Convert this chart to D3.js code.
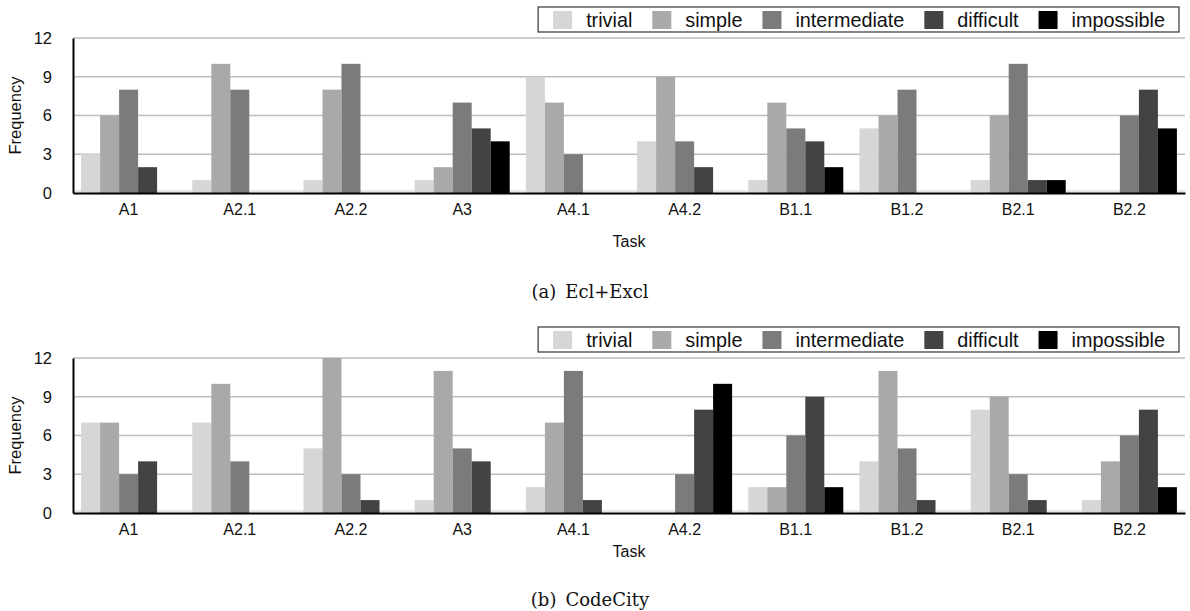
<!DOCTYPE html>
<html>
<head>
<meta charset="utf-8">
<script src="https://cdn.jsdelivr.net/npm/d3@7/dist/d3.min.js"></script>
<style>
  html, body { margin: 0; padding: 0; background: #fff; }
  svg { display: block; }
  text { font-family: "Liberation Sans", Arial, Helvetica, sans-serif; fill: #111; }
  .caption { font-family: "DejaVu Serif", "Liberation Serif", serif; }
</style>
</head>
<body>
<svg id="chart" width="1190" height="611"></svg>
<script>
// Tasks on the x axis
const tasks = ["A1", "A2.1", "A2.2", "A3", "A4.1", "A4.2", "B1.1", "B1.2", "B2.1", "B2.2"];
// Perceived difficulty levels (legend order)
const levels = ["trivial", "simple", "intermediate", "difficult", "impossible"];
const levelColors = ["#d6d6d6", "#a9a9a9", "#7b7b7b", "#434343", "#000000"];
const yTicks = [0, 3, 6, 9, 12];

// Ecl+Excl: frequency per task, one array per difficulty level
const eclTrivial      = [3, 1, 1, 1, 9, 4, 1, 5, 1, 0];
const eclSimple       = [6, 10, 8, 2, 7, 9, 7, 6, 6, 0];
const eclIntermediate = [8, 8, 10, 7, 3, 4, 5, 8, 10, 6];
const eclDifficult    = [2, 0, 0, 5, 0, 2, 4, 0, 1, 8];
const eclImpossible   = [0, 0, 0, 4, 0, 0, 2, 0, 1, 5];

// CodeCity: frequency per task, one array per difficulty level
const ccTrivial      = [7, 7, 5, 1, 2, 0, 2, 4, 8, 1];
const ccSimple       = [7, 10, 12, 11, 7, 0, 2, 11, 9, 4];
const ccIntermediate = [3, 4, 3, 5, 11, 3, 6, 5, 3, 6];
const ccDifficult    = [4, 0, 1, 4, 1, 8, 9, 1, 1, 8];
const ccImpossible   = [0, 0, 0, 0, 0, 10, 2, 0, 0, 2];

const panels = [
  { caption: "(a)\u2002Ecl+Excl", series: [eclTrivial, eclSimple, eclIntermediate, eclDifficult, eclImpossible],
    top: 38, legendTop: 7, taskY: 247, captionY: 298 },
  { caption: "(b)\u2002CodeCity", series: [ccTrivial, ccSimple, ccIntermediate, ccDifficult, ccImpossible],
    top: 358, legendTop: 327, taskY: 557, captionY: 606 }
];

const svg = d3.select("#chart");
const plotLeft = 73, plotRight = 1185, plotHeight = 155;

const x0 = d3.scaleBand().domain(tasks).range([plotLeft, plotRight]);
const x1 = d3.scaleBand().domain(levels).range([0, x0.bandwidth()]).paddingOuter(0.426);
const color = d3.scaleOrdinal().domain(levels).range(levelColors);

panels.forEach(p => {
  const g = svg.append("g");
  const y = d3.scaleLinear().domain([0, 12]).range([p.top + plotHeight, p.top]);

  // horizontal grid lines (the zero line sits just above the axis)
  g.append("g").selectAll("line").data(yTicks).join("line")
    .attr("x1", plotLeft).attr("x2", plotRight)
    .attr("y1", d => y(d) - (d === 0 ? 2 : 0)).attr("y2", d => y(d) - (d === 0 ? 2 : 0))
    .attr("stroke", d => d === 0 ? "#d0d0d0" : "#bdbdbd")
    .attr("stroke-width", d => d === 0 ? 1 : 1.5);

  // bars
  const rows = tasks.map((t, i) => ({ task: t, values: levels.map((l, j) => ({ level: l, value: p.series[j][i] })) }));
  g.append("g").selectAll("g").data(rows).join("g")
    .attr("transform", d => `translate(${x0(d.task)},0)`)
    .selectAll("rect").data(d => d.values).join("rect")
    .attr("x", d => x1(d.level))
    .attr("width", x1.bandwidth())
    .attr("y", d => y(d.value))
    .attr("height", d => y(0) - y(d.value))
    .attr("fill", d => color(d.level));

  // y axis
  const yAxis = d3.axisLeft(y).tickValues(yTicks).tickSize(0).tickPadding(21);
  const ya = g.append("g").attr("transform", `translate(${plotLeft},0)`).call(yAxis);
  ya.select(".domain").attr("stroke", "#000").attr("stroke-width", 2);
  ya.selectAll("text").style("font-size", "16.5px").style("font-family", "\"Liberation Sans\", Arial, sans-serif").attr("fill", "#111");

  // x axis
  const xAxis = d3.axisBottom(x0).tickSize(0).tickPadding(11);
  const xa = g.append("g").attr("transform", `translate(0,${y(0)})`).call(xAxis);
  xa.select(".domain").attr("stroke", "#000").attr("stroke-width", 2);
  xa.selectAll("text").style("font-size", "16px").style("font-family", "\"Liberation Sans\", Arial, sans-serif").attr("fill", "#111");

  // axis titles
  g.append("text")
    .attr("transform", `translate(21,${p.top + plotHeight / 2}) rotate(-90)`)
    .attr("text-anchor", "middle").style("font-size", "16.5px").text("Frequency");
  g.append("text")
    .attr("x", (plotLeft + plotRight) / 2).attr("y", p.taskY)
    .attr("text-anchor", "middle").style("font-size", "16px").text("Task");

  // caption
  g.append("text").attr("class", "caption")
    .attr("x", 590).attr("y", p.captionY)
    .attr("text-anchor", "middle").style("font-size", "18px").text(p.caption);

  // legend
  const lg = g.append("g");
  const box = lg.append("rect").attr("y", p.legendTop).attr("height", 25)
    .attr("fill", "#fff").attr("stroke", "#444").attr("stroke-width", 1.3);
  let cx = 0;
  const items = [];
  levels.forEach(l => {
    const it = lg.append("g");
    it.append("rect").attr("x", cx).attr("y", p.legendTop + 4).attr("width", 19).attr("height", 18).attr("fill", color(l));
    const t = it.append("text").attr("x", cx + 33).attr("y", p.legendTop + 20)
      .style("font-size", "19.8px").text(l);
    cx += 33 + t.node().getComputedTextLength() + 20;
    items.push(it);
  });
  const totalW = cx - 20;
  const right = 1179 - 14;
  const startX = right - totalW;
  items.forEach(it => it.attr("transform", `translate(${startX},0)`));
  box.attr("x", startX - 15).attr("width", totalW + 29);
});
</script>
</body>
</html>
